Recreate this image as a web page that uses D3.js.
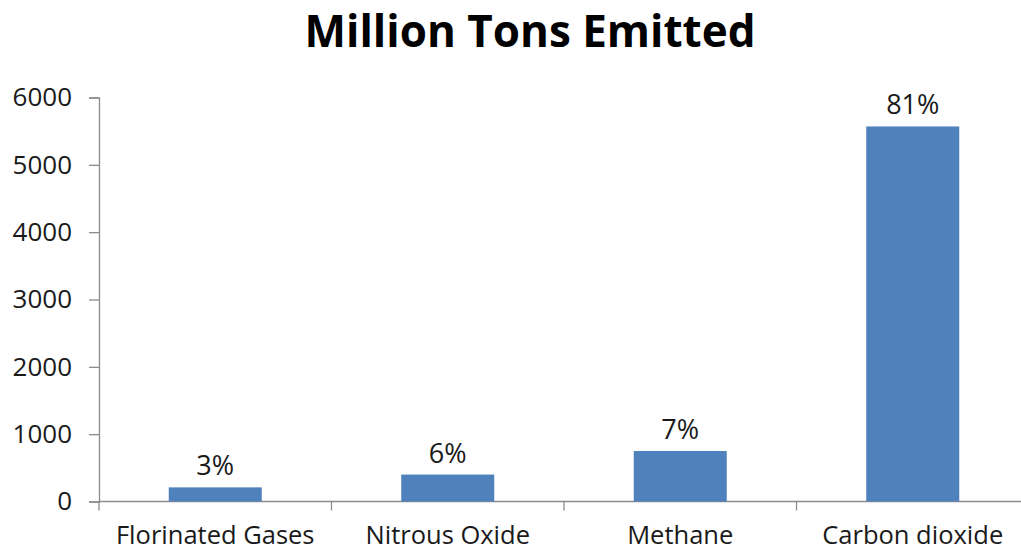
<!DOCTYPE html>
<html>
<head>
<meta charset="utf-8">
<script src="https://cdn.jsdelivr.net/npm/d3@7"></script>
<style>
  html, body { margin: 0; padding: 0; background: #fff; }
  svg { display: block; }
</style>
</head>
<body>
<svg id="chart" width="1021" height="547"></svg>
<script>
// Emissions by gas, million tons
const categories = ["Florinated Gases", "Nitrous Oxide", "Methane", "Carbon dioxide"];
const values = [210, 400, 750, 5570];
const shareLabels = ["3%", "6%", "7%", "81%"];
const yTicks = [0, 1000, 2000, 3000, 4000, 5000, 6000];
const titleText = "Million Tons Emitted";

const svg = d3.select("#chart");
const font = "'Open Sans', 'Liberation Sans', sans-serif";

const plot = { left: 99, right: 1029, top: 97.5, bottom: 501.5 };

const x = d3.scaleBand()
  .domain(categories)
  .range([plot.left, plot.right])
  .paddingInner(0.6)
  .paddingOuter(0.3);

// band ticks sit on category boundaries
const step = x.step();

const y = d3.scaleLinear()
  .domain([0, 6000])
  .range([plot.bottom, plot.top]);

// Title
svg.append("text")
  .attr("x", 530)
  .attr("y", 47)
  .attr("text-anchor", "middle")
  .attr("font-family", font)
  .attr("font-weight", "bold")
  .attr("font-size", 44)
  .attr("fill", "#000")
  .text(titleText);

// Y axis
const yAxis = d3.axisLeft(y)
  .tickValues(yTicks)
  .tickSize(10)
  .tickPadding(17)
  .tickFormat(d3.format("d"));

const gy = svg.append("g")
  .attr("transform", `translate(${plot.left},0)`)
  .call(yAxis);
gy.select(".domain").attr("stroke", "#8c8c8c").attr("stroke-width", 1.3);
gy.selectAll(".tick line").attr("stroke", "#8c8c8c").attr("stroke-width", 1.3);
gy.selectAll(".tick text")
  .attr("font-family", font)
  .attr("font-size", 26)
  .attr("fill", "#1a1a1a");

// X axis baseline
svg.append("line")
  .attr("x1", plot.left).attr("x2", plot.right)
  .attr("y1", y(0)).attr("y2", y(0))
  .attr("stroke", "#8c8c8c").attr("stroke-width", 1.3);

// Category boundary ticks
const boundaries = d3.range(categories.length + 1).map(i => plot.left + i * step);
svg.selectAll(".cat-tick")
  .data(boundaries)
  .join("line")
  .attr("class", "cat-tick")
  .attr("x1", d => d).attr("x2", d => d)
  .attr("y1", y(0)).attr("y2", y(0) + 9)
  .attr("stroke", "#8c8c8c").attr("stroke-width", 1.3);

// Category labels
svg.selectAll(".cat-label")
  .data(categories)
  .join("text")
  .attr("class", "cat-label")
  .attr("x", d => x(d) + x.bandwidth() / 2)
  .attr("y", 544)
  .attr("text-anchor", "middle")
  .attr("font-family", font)
  .attr("font-size", 25.5)
  .attr("fill", "#1a1a1a")
  .text(d => d);

// Bars
svg.selectAll(".bar")
  .data(values)
  .join("rect")
  .attr("class", "bar")
  .attr("x", (d, i) => x(categories[i]))
  .attr("width", x.bandwidth())
  .attr("y", d => y(d))
  .attr("height", d => y(0) - y(d))
  .attr("fill", "#4f81bd");

// Share labels above bars
svg.selectAll(".share")
  .data(values)
  .join("text")
  .attr("class", "share")
  .attr("x", (d, i) => x(categories[i]) + x.bandwidth() / 2)
  .attr("y", d => y(d) - 12)
  .attr("text-anchor", "middle")
  .attr("font-family", font)
  .attr("font-size", 27)
  .attr("fill", "#1a1a1a")
  .text((d, i) => shareLabels[i]);
</script>
</body>
</html>
